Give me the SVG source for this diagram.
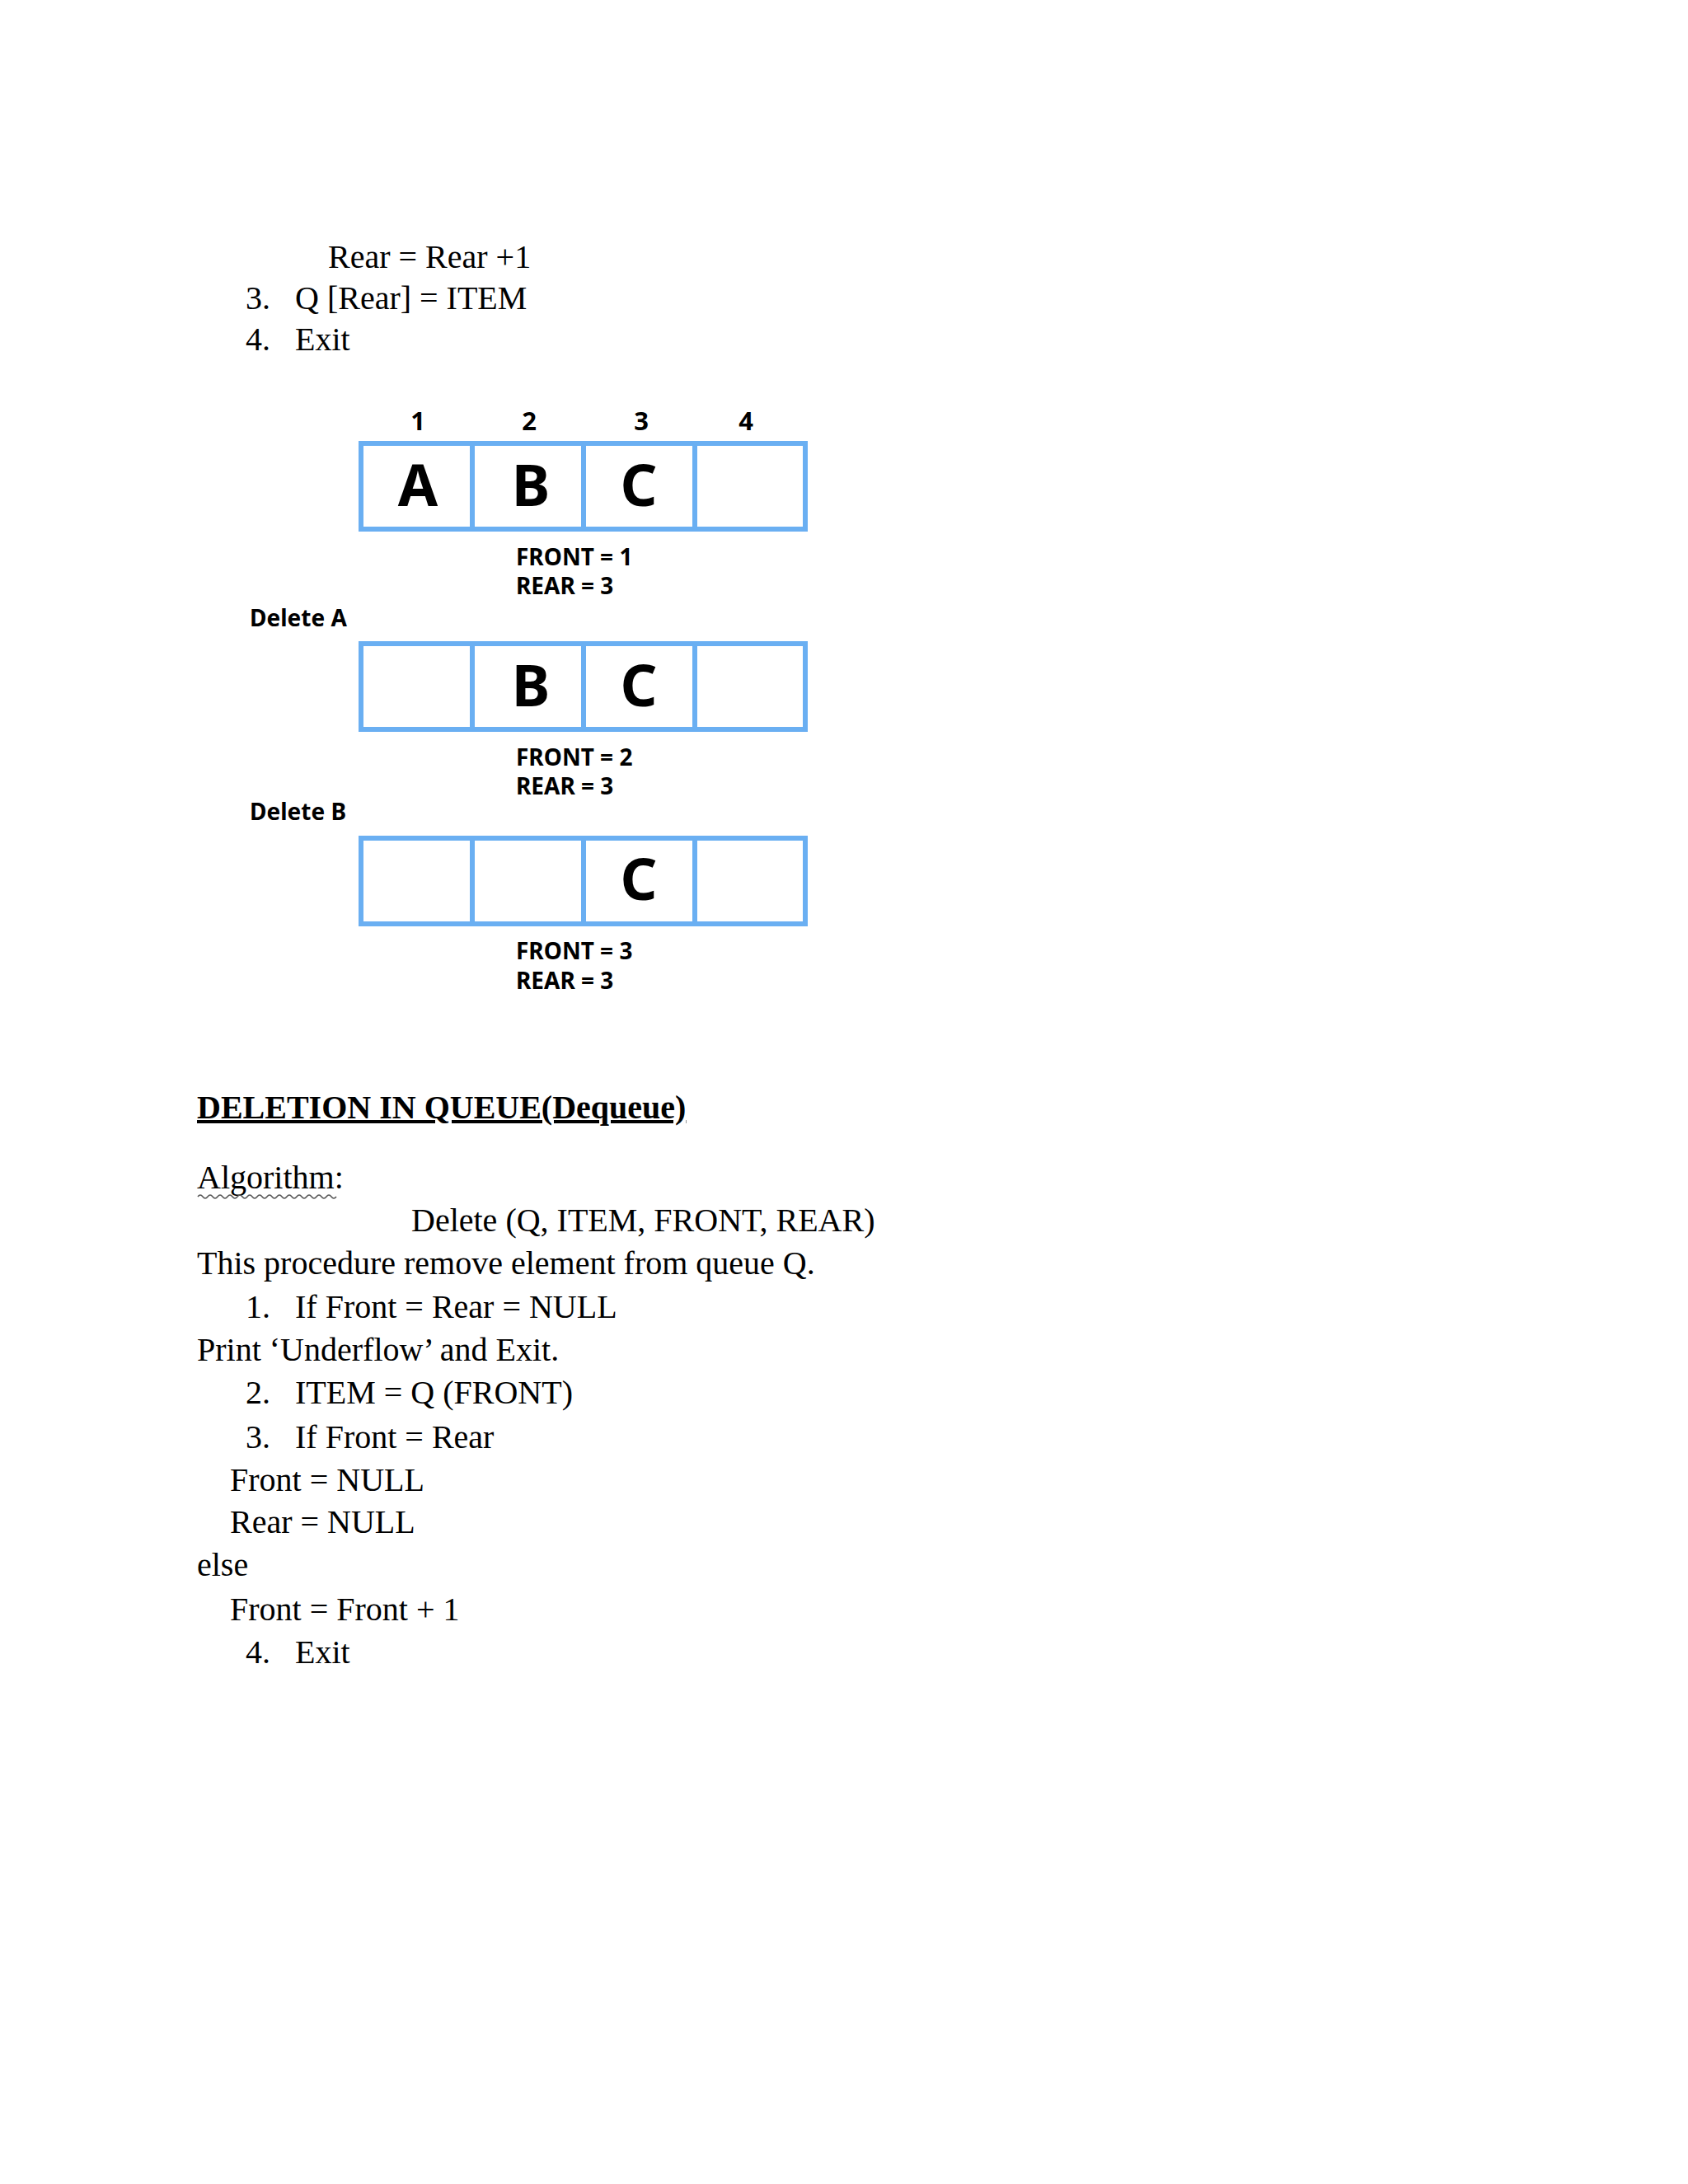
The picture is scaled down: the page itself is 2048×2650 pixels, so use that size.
<svg xmlns="http://www.w3.org/2000/svg" width="2048" height="2650" viewBox="0 0 2048 2650">
<style>
.t{font-family:"Liberation Serif","Times New Roman",serif;font-size:40px;fill:#000}
.h{font-family:"Liberation Serif","Times New Roman",serif;font-size:40px;font-weight:bold;fill:#000;text-decoration:underline}
.s{font-family:"Noto Sans","Open Sans",sans-serif;font-weight:bold;fill:#000}
.d{font-size:31px;text-anchor:middle}
.L{font-size:70px;text-anchor:middle}
.f{font-size:28px}
.c{fill:#fff;stroke:#6aaff2;stroke-width:6}
</style>
<rect width="2048" height="2650" fill="#fff"/>
<g id="top-text">
<text class="t" x="398" y="325">Rear = Rear +1</text>
<text class="t" x="298" y="375">3.</text><text class="t" x="358" y="375">Q [Rear] = ITEM</text>
<text class="t" x="298" y="425">4.</text><text class="t" x="358" y="425">Exit</text>
</g>
<g id="indices">
<text class="s d" x="507" y="522">1</text><text class="s d" x="642" y="522">2</text>
<text class="s d" x="778" y="522">3</text><text class="s d" x="905" y="522">4</text>
</g>
<g id="queue1">
<rect class="c" x="438" y="538" width="135" height="104"/><rect class="c" x="573" y="538" width="135" height="104"/>
<rect class="c" x="708" y="538" width="135" height="104"/><rect class="c" x="843" y="538" width="134" height="104"/>
<text class="s L" x="507" y="614">A</text><text class="s L" x="644" y="614">B</text><text class="s L" x="775" y="614">C</text>
<text class="s f" x="626" y="686">FRONT = 1</text><text class="s f" x="626" y="721">REAR = 3</text>
</g>
<g id="queue2">
<text class="s f" x="303" y="760">Delete A</text>
<rect class="c" x="438" y="781" width="135" height="104"/><rect class="c" x="573" y="781" width="135" height="104"/>
<rect class="c" x="708" y="781" width="135" height="104"/><rect class="c" x="843" y="781" width="134" height="104"/>
<text class="s L" x="644" y="857">B</text><text class="s L" x="775" y="857">C</text>
<text class="s f" x="626" y="929">FRONT = 2</text><text class="s f" x="626" y="964">REAR = 3</text>
</g>
<g id="queue3">
<text class="s f" x="303" y="995">Delete B</text>
<rect class="c" x="438" y="1017" width="135" height="104"/><rect class="c" x="573" y="1017" width="135" height="104"/>
<rect class="c" x="708" y="1017" width="135" height="104"/><rect class="c" x="843" y="1017" width="134" height="104"/>
<text class="s L" x="775" y="1092">C</text>
<text class="s f" x="626" y="1164">FRONT = 3</text><text class="s f" x="626" y="1200">REAR = 3</text>
</g>
<g id="algorithm">
<text class="h" x="239" y="1357">DELETION IN QUEUE(Dequeue)</text>
<text class="t" x="239" y="1442">Algorithm:</text>
<path d="M240 1452 q3 -4 6 0 t6 0 t6 0 t6 0 t6 0 t6 0 t6 0 t6 0 t6 0 t6 0 t6 0 t6 0 t6 0 t6 0 t6 0 t6 0 t6 0 t6 0 t6 0 t6 0 t6 0 t6 0 t6 0 t6 0 t6 0 t6 0 t6 0 t6 0" fill="none" stroke="#555" stroke-width="1.5"/>
<text class="t" x="499" y="1494">Delete (Q, ITEM, FRONT, REAR)</text>
<text class="t" x="239" y="1546">This procedure remove element from queue Q.</text>
<text class="t" x="298" y="1599">1.</text><text class="t" x="358" y="1599">If Front = Rear = NULL</text>
<text class="t" x="239" y="1651">Print ‘Underflow’ and Exit.</text>
<text class="t" x="298" y="1703">2.</text><text class="t" x="358" y="1703">ITEM = Q (FRONT)</text>
<text class="t" x="298" y="1757">3.</text><text class="t" x="358" y="1757">If Front = Rear</text>
<text class="t" x="279" y="1809">Front = NULL</text>
<text class="t" x="279" y="1860">Rear = NULL</text>
<text class="t" x="239" y="1912">else</text>
<text class="t" x="279" y="1966">Front = Front + 1</text>
<text class="t" x="298" y="2018">4.</text><text class="t" x="358" y="2018">Exit</text>
</g>
</svg>
